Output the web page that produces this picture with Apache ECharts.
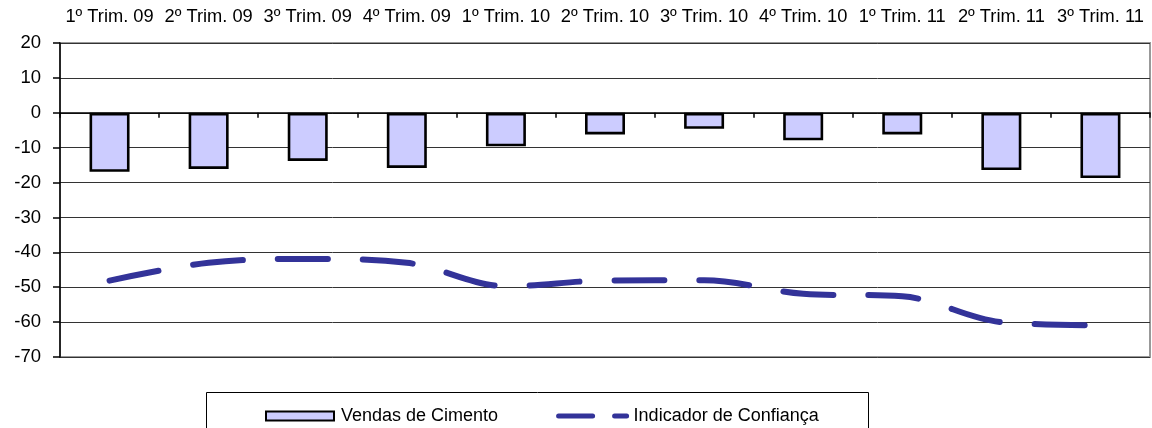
<!DOCTYPE html>
<html>
<head>
<meta charset="utf-8">
<script src="https://cdn.jsdelivr.net/npm/echarts@6/dist/echarts.min.js"></script>
<style>
html,body{margin:0;padding:0;background:#fff;}
#c{width:1152px;height:428px;}
</style>
</head>
<body>
<div id="c"></div>
<script>
const categories = ['1º Trim. 09','2º Trim. 09','3º Trim. 09','4º Trim. 09','1º Trim. 10','2º Trim. 10','3º Trim. 10','4º Trim. 10','1º Trim. 11','2º Trim. 11','3º Trim. 11'];
const vendasCimento = [-16.9, -16.1, -13.8, -15.8, -9.6, -6.2, -4.6, -7.9, -6.2, -16.4, -18.7];
const indicadorConfianca = [-48.1, -43.0, -41.9, -43.0, -49.7, -48.1, -48.0, -51.9, -52.6, -60.0, -60.9];
const seriesNames = ['Vendas de Cimento', 'Indicador de Confiança'];

const FONT = '"Liberation Sans", Arial, sans-serif';
const chart = echarts.init(document.getElementById('c'));
chart.setOption({
  animation: false,
  backgroundColor: '#fff',
  textStyle: { fontFamily: FONT },
  grid: { left: 60, right: 2, top: 43, bottom: 71, show: true, borderColor: '#999', borderWidth: 2, backgroundColor: 'transparent' },
  graphic: [{
    type: 'rect', left: 206, top: 392, z: -1,
    shape: { width: 662, height: 50 },
    style: { fill: '#fff', stroke: '#000', lineWidth: 1 }
  }],
  legend: {
    left: 260, top: 402,
    itemWidth: 68, itemHeight: 9, itemGap: 58,
    textStyle: { fontSize: 18, color: '#000', fontFamily: FONT, padding: [0, 0, 0, 2] },
    data: [
      { name: seriesNames[0], icon: 'rect' },
      { name: seriesNames[1],
        itemStyle: { color: 'rgba(0,0,0,0)', borderWidth: 0, opacity: 0 },
        lineStyle: { color: '#333399', width: 5, type: [34, 22], cap: 'round' } }
    ]
  },
  xAxis: [{
    type: 'category', data: categories, position: 'bottom',
    axisLine: { onZero: true, lineStyle: { color: '#000', width: 1.5 } },
    axisTick: { show: true, length: 5, lineStyle: { color: '#000', width: 1.5 } },
    axisLabel: { show: false }, splitLine: { show: false }
  }, {
    type: 'category', data: categories, position: 'top',
    axisLine: { show: false, onZero: false }, axisTick: { show: false },
    axisLabel: { show: true, fontSize: 18.3, color: '#000', margin: 17, fontFamily: FONT, interval: 0 },
    splitLine: { show: false }
  }],
  yAxis: {
    type: 'value', min: -70, max: 20, interval: 10,
    axisLine: { show: true, lineStyle: { color: '#000', width: 1.5 } },
    axisTick: { show: true, length: 7, lineStyle: { color: '#000', width: 1.5 } },
    axisLabel: { fontSize: 18.5, color: '#000', margin: 19, fontFamily: FONT },
    splitLine: { show: true, lineStyle: { color: '#333', width: 1 } }
  },
  series: [{
    name: seriesNames[0], type: 'bar', xAxisIndex: 0, data: vendasCimento,
    barWidth: 40,
    itemStyle: { color: '#CCCCFF', borderColor: '#000', borderWidth: 2.6 }
  }, {
    name: seriesNames[1], type: 'line', xAxisIndex: 0, data: indicadorConfianca,
    symbol: 'none', smooth: 0.35, z: 5,
    lineStyle: { color: '#333399', width: 6, type: [50, 35], cap: 'round' },
    itemStyle: { color: '#333399' }
  }]
});
</script>
</body>
</html>
